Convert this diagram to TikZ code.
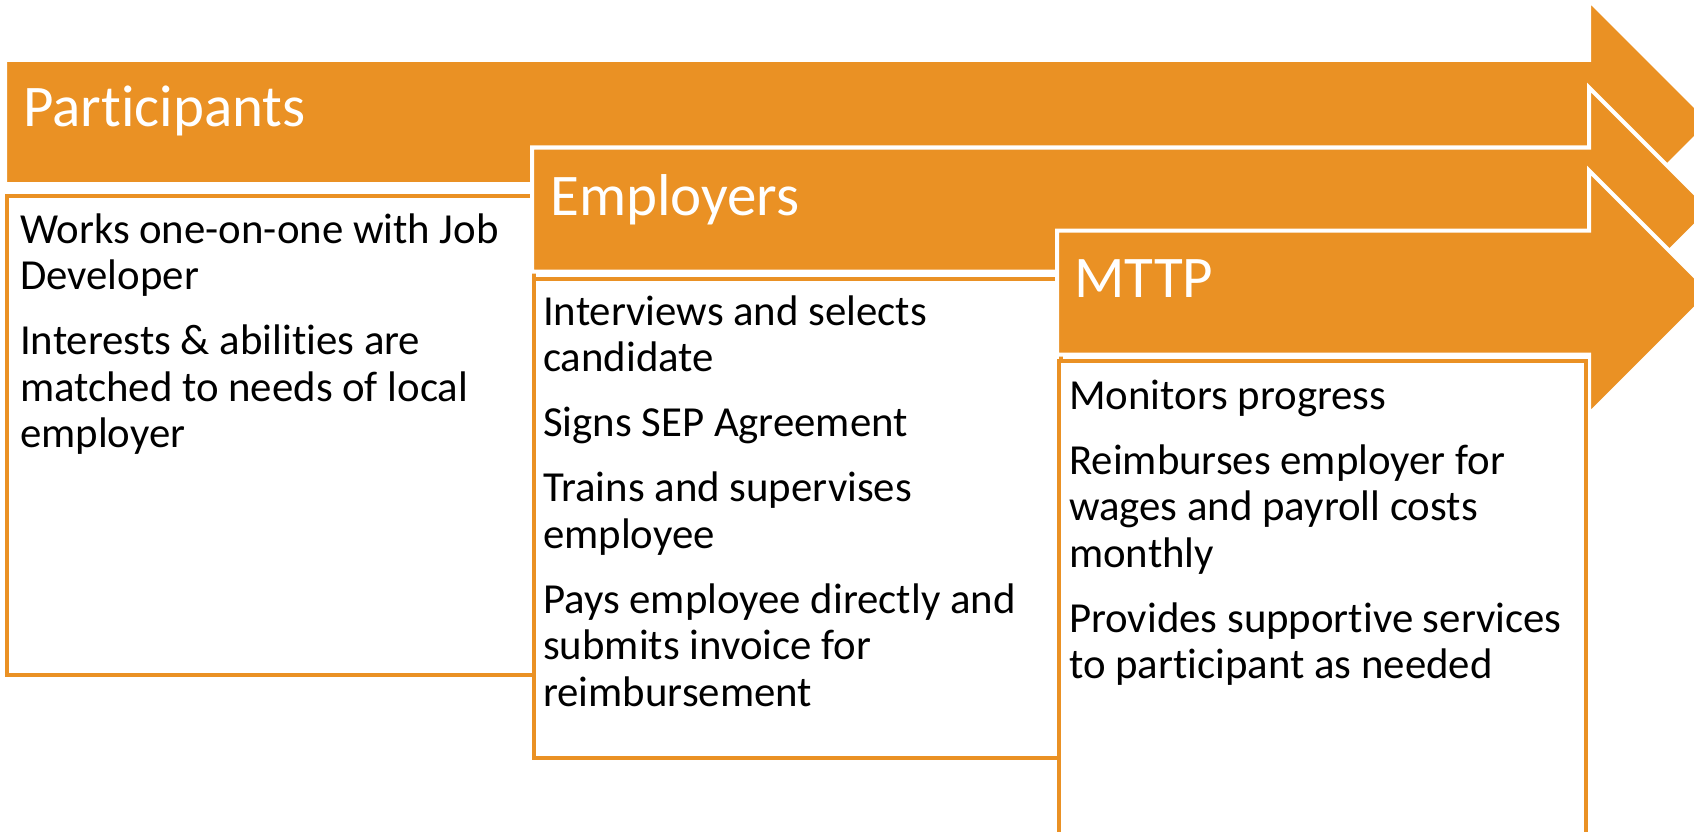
\documentclass[tikz,border=0pt]{standalone}
\usepackage{fontspec}
\setmainfont{Carlito}[RawFeature=-liga]
\definecolor{acc}{RGB}{234,145,36}
\newcommand\procarrow[2]{%
  \path[arrowshape] (#1,{#2-62}) -- (1589,{#2-62}) -- (1589,{#2-122}) -- (1711,#2)
    -- (1589,{#2+122}) -- (1589,{#2+62}) -- (#1,{#2+62}) -- cycle;}
\begin{document}
\begin{tikzpicture}[x=1pt,y=-1pt,
  arrowshape/.style={fill=acc, draw=white, line width=4pt, line join=miter},
  boxshape/.style={fill=white, draw=acc, line width=3.5pt, anchor=north west,
    minimum width=527pt, minimum height=479pt, inner sep=0pt},
  titletext/.style={anchor=base west, inner sep=0pt, text=white,
    font=\fontsize{59}{70}\selectfont},
  bodytext/.style={anchor=north west, inner sep=0pt, align=left,
    font=\fontsize{42.8}{46.5}\selectfont}]
\useasboundingbox (0,0) rectangle (1694,832);
\clip (0,0) rectangle (1694,832);
% Participants
\procarrow{5}{122}
\node[boxshape] (pbox) at (5,194) {};
\node[titletext] (ptitle) at (23,127) {Participants};
\node[bodytext] (ptext) at (20,210.5) {\strut Works one-on-one with Job\\Developer\\[18.5pt]
  Interests \& abilities are\\matched to needs of local\\employer};
% Employers
\procarrow{532}{209.5}
\node[boxshape] (ebox) at (532,277) {};
\node[titletext] (etitle) at (550,215) {Employers};
\node[bodytext] (etext) at (543,292.5) {\strut Interviews and selects\\candidate\\[18.5pt]
  Signs SEP Agreement\\[18.5pt]
  Trains and supervises\\employee\\[18.5pt]
  Pays employee directly and\\submits invoice for\\reimbursement};
% MTTP
\procarrow{1057}{292.5}
\node[boxshape] (mbox) at (1057,359) {};
\node[titletext] (mtitle) at (1074,297) {MTTP};
\node[bodytext] (mtext) at (1069,376.5) {\strut Monitors progress\\[18.5pt]
  Reimburses employer for\\wages and payroll costs\\monthly\\[18.5pt]
  Provides supportive services\\to participant as needed};
\end{tikzpicture}
\end{document}
